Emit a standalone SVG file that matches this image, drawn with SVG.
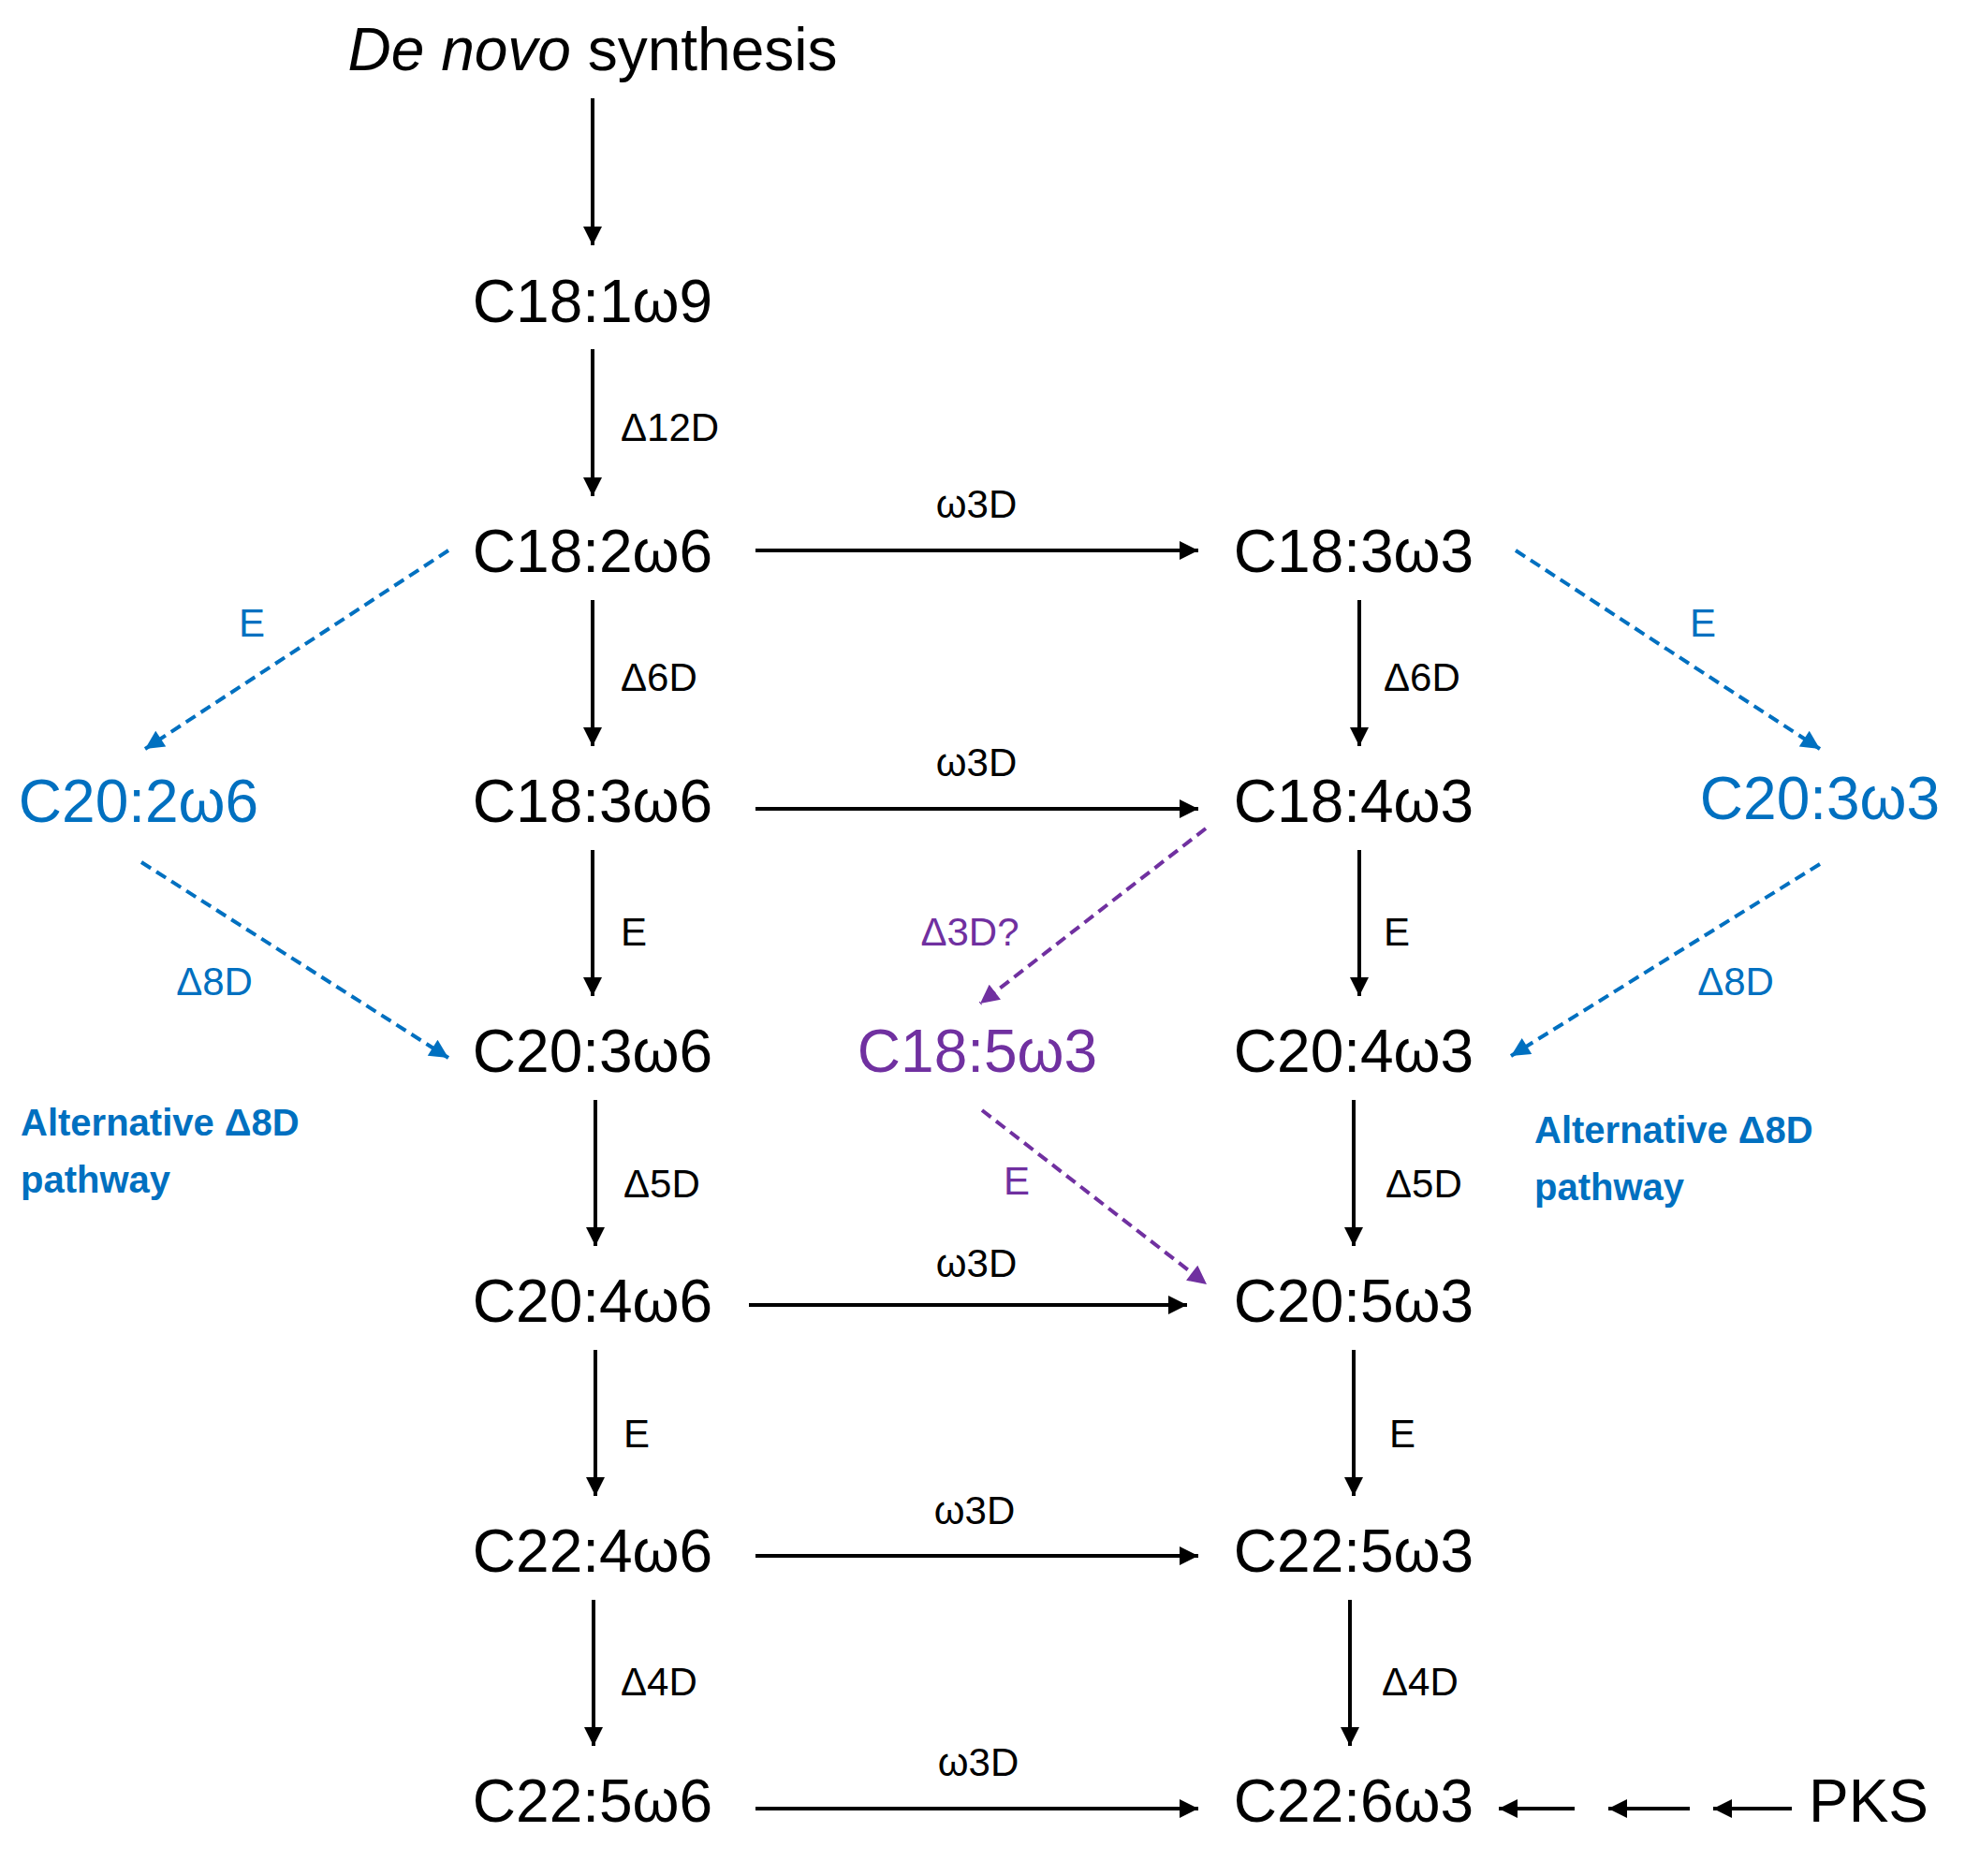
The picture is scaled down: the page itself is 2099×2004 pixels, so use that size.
<svg xmlns="http://www.w3.org/2000/svg" width="2099" height="2004" viewBox="0 0 2099 2004">
<style>
.n{font-family:"Liberation Sans",Arial,sans-serif;font-size:64px;text-anchor:middle;fill:#000}
.l{font-family:"Liberation Sans",Arial,sans-serif;font-size:42px;fill:#000}
.b{fill:#0070C0}.p{fill:#7030A0}
.alt{font-family:"Liberation Sans",Arial,sans-serif;font-size:40px;font-weight:bold;fill:#0070C0}
.k{stroke:#000;stroke-width:4;fill:none;marker-end:url(#ak)}
.db{stroke:#0070C0;stroke-width:4;stroke-dasharray:12 7;fill:none;marker-end:url(#ab)}
.dp{stroke:#7030A0;stroke-width:4;stroke-dasharray:12 7;fill:none;marker-end:url(#ap)}
</style>
<defs>
<marker id="ak" viewBox="0 0 10 10" refX="10" refY="5" markerWidth="6" markerHeight="5" orient="auto" markerUnits="strokeWidth"><path d="M0,0L10,5L0,10z" fill="#000"/></marker>
<marker id="ab" viewBox="0 0 10 10" refX="10" refY="5" markerWidth="6" markerHeight="5" orient="auto" markerUnits="strokeWidth"><path d="M0,0L10,5L0,10z" fill="#0070C0"/></marker>
<marker id="ap" viewBox="0 0 10 10" refX="10" refY="5" markerWidth="6" markerHeight="5" orient="auto" markerUnits="strokeWidth"><path d="M0,0L10,5L0,10z" fill="#7030A0"/></marker>
</defs>
<rect width="2099" height="2004" fill="#fff"/>
<g id="denovo"><text class="n" x="633" y="75"><tspan font-style="italic">De novo</tspan> synthesis</text></g>
<g id="c18_1w9"><text class="n" x="633" y="344">C18:1ω9</text></g>
<g id="c18_2w6"><text class="n" x="633" y="611">C18:2ω6</text></g>
<g id="c18_3w6"><text class="n" x="633" y="878">C18:3ω6</text></g>
<g id="c20_3w6"><text class="n" x="633" y="1145">C20:3ω6</text></g>
<g id="c20_4w6"><text class="n" x="633" y="1412">C20:4ω6</text></g>
<g id="c22_4w6"><text class="n" x="633" y="1679">C22:4ω6</text></g>
<g id="c22_5w6"><text class="n" x="633" y="1946">C22:5ω6</text></g>
<g id="c18_3w3"><text class="n" x="1446" y="611">C18:3ω3</text></g>
<g id="c18_4w3"><text class="n" x="1446" y="878">C18:4ω3</text></g>
<g id="c20_4w3"><text class="n" x="1446" y="1145">C20:4ω3</text></g>
<g id="c20_5w3"><text class="n" x="1446" y="1412">C20:5ω3</text></g>
<g id="c22_5w3"><text class="n" x="1446" y="1679">C22:5ω3</text></g>
<g id="c22_6w3"><text class="n" x="1446" y="1946">C22:6ω3</text></g>
<g id="pks"><text class="n" x="1996" y="1946">PKS</text></g>
<g id="c20_2w6"><text class="n b" x="148" y="878">C20:2ω6</text></g>
<g id="c20_3w3"><text class="n b" x="1944" y="875">C20:3ω3</text></g>
<g id="c18_5w3"><text class="n p" x="1044" y="1145">C18:5ω3</text></g>
<g id="alt_left"><text class="alt" x="22" y="1213">Alternative Δ8D</text><text class="alt" x="22" y="1274">pathway</text></g>
<g id="alt_right"><text class="alt" x="1639" y="1221">Alternative Δ8D</text><text class="alt" x="1639" y="1282">pathway</text></g>
<g id="connectors">
<line class="k" x1="633" y1="105" x2="633" y2="262"/>
<line class="k" x1="633" y1="373" x2="633" y2="530"/>
<line class="k" x1="633" y1="641" x2="633" y2="797"/>
<line class="k" x1="633" y1="908" x2="633" y2="1064"/>
<line class="k" x1="636" y1="1175" x2="636" y2="1331"/>
<line class="k" x1="636" y1="1442" x2="636" y2="1598"/>
<line class="k" x1="634" y1="1709" x2="634" y2="1865"/>
<line class="k" x1="1452" y1="641" x2="1452" y2="797"/>
<line class="k" x1="1452" y1="908" x2="1452" y2="1064"/>
<line class="k" x1="1446" y1="1175" x2="1446" y2="1331"/>
<line class="k" x1="1446" y1="1442" x2="1446" y2="1598"/>
<line class="k" x1="1442" y1="1709" x2="1442" y2="1865"/>
<line class="k" x1="807" y1="588" x2="1280" y2="588"/>
<line class="k" x1="807" y1="864" x2="1280" y2="864"/>
<line class="k" x1="800" y1="1394" x2="1268" y2="1394"/>
<line class="k" x1="807" y1="1662" x2="1280" y2="1662"/>
<line class="k" x1="807" y1="1932" x2="1280" y2="1932"/>
<line class="k" x1="1682" y1="1932" x2="1601" y2="1932"/>
<line class="k" x1="1805" y1="1932" x2="1718" y2="1932"/>
<line class="k" x1="1914" y1="1932" x2="1830" y2="1932"/>
<line class="db" x1="479" y1="588" x2="155" y2="800"/>
<line class="db" x1="151" y1="921" x2="479" y2="1130"/>
<line class="db" x1="1619" y1="588" x2="1944" y2="800"/>
<line class="db" x1="1944" y1="923" x2="1614" y2="1128"/>
<line class="dp" x1="1288" y1="885" x2="1047" y2="1072"/>
<line class="dp" x1="1049" y1="1186" x2="1289" y2="1372"/>
</g>
<g id="labels">
<text class="l" x="663" y="471">Δ12D</text>
<text class="l" x="663" y="738">Δ6D</text>
<text class="l" x="663" y="1010">E</text>
<text class="l" x="666" y="1279">Δ5D</text>
<text class="l" x="666" y="1546">E</text>
<text class="l" x="663" y="1811">Δ4D</text>
<text class="l" x="1478" y="738">Δ6D</text>
<text class="l" x="1478" y="1010">E</text>
<text class="l" x="1480" y="1279">Δ5D</text>
<text class="l" x="1484" y="1546">E</text>
<text class="l" x="1476" y="1811">Δ4D</text>
<text class="l" x="1043" y="553" text-anchor="middle">ω3D</text>
<text class="l" x="1043" y="829" text-anchor="middle">ω3D</text>
<text class="l" x="1043" y="1364" text-anchor="middle">ω3D</text>
<text class="l" x="1041" y="1628" text-anchor="middle">ω3D</text>
<text class="l" x="1045" y="1897" text-anchor="middle">ω3D</text>
<text class="l b" x="269" y="680" text-anchor="middle">E</text>
<text class="l b" x="1819" y="680" text-anchor="middle">E</text>
<text class="l b" x="229" y="1063" text-anchor="middle">Δ8D</text>
<text class="l b" x="1854" y="1063" text-anchor="middle">Δ8D</text>
<text class="l p" x="1036" y="1010" text-anchor="middle">Δ3D?</text>
<text class="l p" x="1086" y="1276" text-anchor="middle">E</text>
</g>
</svg>
